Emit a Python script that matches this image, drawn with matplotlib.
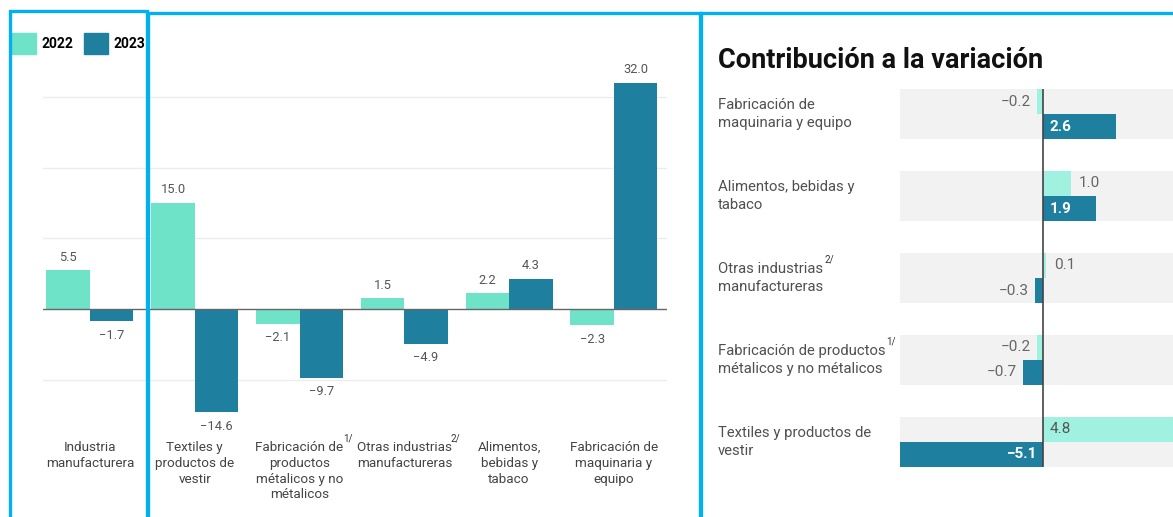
import matplotlib
matplotlib.use("Agg")
import matplotlib.pyplot as plt
from matplotlib.patches import Rectangle, Patch
from matplotlib.transforms import blended_transform_factory, offset_copy

plt.rcParams["font.family"] = ["Roboto", "DejaVu Sans"]

# ---- data -------------------------------------------------------------
years = ["2022", "2023"]
sectors = [
    "Industria\nmanufacturera",
    "Textiles y\nproductos de\nvestir",
    "Fabricación de\nproductos\nmétalicos y no\nmétalicos",
    "Otras industrias\nmanufactureras",
    "Alimentos,\nbebidas y\ntabaco",
    "Fabricación de\nmaquinaria y\nequipo",
]
sector_notes = ["", "", "1/", "2/", "", ""]
growth_2022 = [5.5, 15.0, -2.1, 1.5, 2.2, -2.3]
growth_2023 = [-1.7, -14.6, -9.7, -4.9, 4.3, 32.0]

contrib_rows = [
    "Fabricación de\nmaquinaria y equipo",
    "Alimentos, bebidas y\ntabaco",
    "Otras industrias\nmanufactureras",
    "Fabricación de productos\nmétalicos y no métalicos",
    "Textiles y productos de\nvestir",
]
contrib_notes = ["", "", "2/", "1/", ""]
contrib_2022 = [-0.2, 1.0, 0.1, -0.2, 4.8]
contrib_2023 = [2.6, 1.9, -0.3, -0.7, -5.1]

# ---- style ------------------------------------------------------------
C22 = "#6fe3c8"
C22_LIGHT = "#a0f1df"
C23 = "#1e7f9f"
FRAME = "#00b0f0"
TXT = "#555555"

W, H = 1173, 517
fig = plt.figure(figsize=(W / 100, H / 100), dpi=100)


def px_box(x0, y0, x1, y1):
    """pixel box (top-left origin) -> figure fraction [l, b, w, h]"""
    return [x0 / W, 1 - y1 / H, (x1 - x0) / W, (y1 - y0) / H]


def fmt(v):
    return f"{v:.1f}".replace("-", "\u2212")


# ---- left: growth by sector -------------------------------------------
ax = fig.add_axes(px_box(43, 75.7, 667, 425.7))
x = list(range(len(sectors)))
bw = 0.415
b22 = ax.bar([i - bw / 2 for i in x], growth_2022, bw, color=C22, label=years[0], zorder=2)
b23 = ax.bar([i + bw / 2 for i in x], growth_2023, bw, color=C23, label=years[1], zorder=2)
ax.set_xlim(-0.448, len(sectors) - 0.494)
ax.set_ylim(-16.5, 33)
ax.set_yticks([-10, 10, 20, 30])
ax.yaxis.grid(True, color="#ececec", lw=1)
ax.set_axisbelow(True)
ax.tick_params(axis="y", length=0, labelleft=False)
ax.axhline(0, color="#666666", lw=1, zorder=3)
for s in ax.spines.values():
    s.set_visible(False)

ax.set_xticks(x)
ax.set_xticklabels(sectors, fontsize=9.7, color="#444444", linespacing=1.28, va="top")
ax.tick_params(axis="x", length=0, pad=11)

for bars, vals in ((b22, growth_2022), (b23, growth_2023)):
    for rect, v in zip(bars, vals):
        cx = rect.get_x() + rect.get_width() / 2
        ax.annotate(fmt(v), (cx, v), xytext=(0, 13 if v > 0 else -14),
                    textcoords="offset pixels", ha="center", va="center",
                    fontsize=9.3, color=TXT)

sup_tr = blended_transform_factory(ax.transData, fig.transFigure)
for i, note in enumerate(sector_notes):
    if note:
        tr = offset_copy(sup_tr, fig=fig, x=48 if note == "1/" else 51, y=0, units="dots")
        ax.text(i, 1 - 438 / H, note, transform=tr, fontsize=7, color="#333333",
                ha="center", va="center")

ax.legend(handles=[Patch(color=C22), Patch(color=C23)], labels=years,
          loc="upper left", bbox_to_anchor=(12 / W, 1 - 33 / H),
          bbox_transform=fig.transFigure, ncol=2, frameon=False,
          prop={"weight": "bold", "size": 10}, handlelength=1.75,
          handleheight=2.0, handletextpad=0.35, columnspacing=0.8,
          borderpad=0, borderaxespad=0)

# ---- right: contribution ----------------------------------------------
ax2 = fig.add_axes(px_box(900, 89, W, 467))
band = 0.61
rows = list(range(len(contrib_rows)))
ypos = [-r for r in rows]
for y in ypos:
    ax2.axhspan(y - band / 2, y + band / 2, color="#f2f2f2", lw=0, zorder=0)
h = band / 2
r22 = ax2.barh([y + h / 2 for y in ypos], contrib_2022, h, color=C22_LIGHT, zorder=2)
r23 = ax2.barh([y - h / 2 for y in ypos], contrib_2023, h, color=C23, zorder=2)
ax2.set_xlim(-5.1, 4.64)
ax2.set_ylim(ypos[-1] - band / 2, ypos[0] + band / 2)
ax2.axvline(0, color="#444444", lw=1.2, zorder=3)
ax2.set_xticks([])
ax2.set_yticks([])
for s in ax2.spines.values():
    s.set_visible(False)

for bars, vals, inner_col, inner_w in ((r22, contrib_2022, "#555555", "normal"),
                                      (r23, contrib_2023, "white", "bold")):
    for rect, v in zip(bars, vals):
        cy = rect.get_y() + rect.get_height() / 2
        if abs(v) >= 1.5:
            ax2.annotate(fmt(v), (0, cy), xytext=(7 if v > 0 else -6, 0),
                         textcoords="offset pixels", ha="left" if v > 0 else "right",
                         va="center", fontsize=11, color=inner_col, weight=inner_w)
        else:
            ax2.annotate(fmt(v), (v, cy), xytext=(8 if v > 0 else -6, 0),
                         textcoords="offset pixels", ha="left" if v > 0 else "right",
                         va="center", fontsize=11, color="#666666")

lab_tr = blended_transform_factory(fig.transFigure, ax2.transData)
for y, lab, note in zip(ypos, contrib_rows, contrib_notes):
    ax2.text(718 / W, y, lab, transform=lab_tr, ha="left", va="center",
             fontsize=10.7, color="#505050", linespacing=1.38)
    if note:
        nx = 829 if note == "2/" else 891
        ax2.text(nx / W, y, note, transform=offset_copy(lab_tr, fig=fig, y=18, units="dots"),
                 ha="center", va="center", fontsize=7, color="#333333")

fig.text(718 / W, 1 - 61 / H, "Contribución a la variación", fontsize=19.5,
         weight="bold", color="#111111", ha="left", va="center")

# ---- highlight frames --------------------------------------------------
for x0, y0, x1 in ((10, 11, 147), (148, 13, 700), (701, 13, 1190)):
    fig.add_artist(Rectangle((x0 / W, -0.05), (x1 - x0) / W, 1.05 - y0 / H,
                             transform=fig.transFigure, fill=False,
                             edgecolor=FRAME, lw=2.4, zorder=10))

fig.savefig("out.png", dpi=100, facecolor="white")
